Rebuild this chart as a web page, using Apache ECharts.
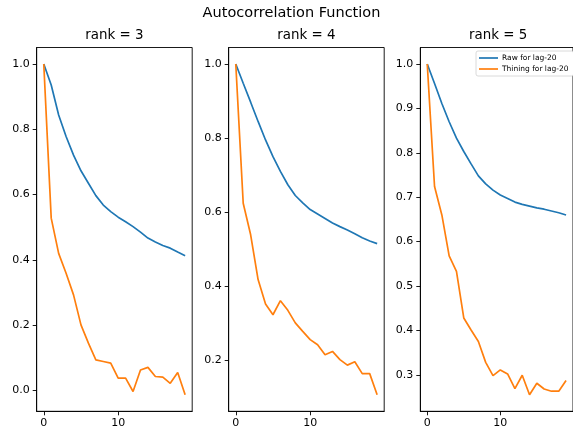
<!DOCTYPE html>
<html>
<head>
<meta charset="utf-8">
<script src="https://cdn.jsdelivr.net/npm/echarts@6/dist/echarts.min.js"></script>
<style>
html,body{margin:0;padding:0;background:#fff;}
#c{width:573px;height:431px;}
</style>
</head>
<body>
<div id="c"></div>
<script>
const lags = [0,1,2,3,4,5,6,7,8,9,10,11,12,13,14,15,16,17,18,19];
const panelTitles = ['rank = 3', 'rank = 4', 'rank = 5'];
const seriesNames = ['Raw for lag-20', 'Thining for lag-20'];
const xTicks = [0, 10];

const raw3 = [1.0,0.936,0.844,0.778,0.721,0.673,0.635,0.597,0.568,0.548,0.531,0.517,0.502,0.485,0.467,0.455,0.444,0.436,0.424,0.413];
const thin3 = [1.0,0.528,0.420,0.359,0.293,0.201,0.145,0.094,0.089,0.084,0.038,0.038,-0.003,0.063,0.071,0.043,0.041,0.022,0.055,-0.013];
const raw4 = [1.0,0.948,0.897,0.845,0.795,0.750,0.710,0.674,0.645,0.625,0.607,0.595,0.583,0.571,0.561,0.552,0.542,0.531,0.522,0.515];
const thin4 = [1.0,0.624,0.539,0.418,0.352,0.323,0.361,0.335,0.301,0.278,0.256,0.242,0.215,0.224,0.202,0.187,0.196,0.164,0.164,0.107];
const raw5 = [1.0,0.956,0.911,0.870,0.833,0.803,0.775,0.748,0.730,0.716,0.705,0.697,0.689,0.684,0.680,0.676,0.673,0.669,0.665,0.660];
const thin5 = [1.0,0.724,0.660,0.568,0.533,0.428,0.401,0.375,0.328,0.298,0.311,0.302,0.269,0.299,0.255,0.281,0.268,0.263,0.263,0.287];
const yTicks3 = [0.0,0.2,0.4,0.6,0.8,1.0];
const yTicks4 = [0.2,0.4,0.6,0.8,1.0];
const yTicks5 = [0.3,0.4,0.5,0.6,0.7,0.8,0.9,1.0];

const panels = [
  {raw: raw3, thin: thin3, yTicks: yTicks3, left: 36.7},
  {raw: raw4, thin: thin4, yTicks: yTicks4, left: 228.7},
  {raw: raw5, thin: thin5, yTicks: yTicks5, left: 420.3}
];

const FONT = 'DejaVu Sans';
const BLUE = '#1f77b4', ORANGE = '#ff7f0e';
const gridTop = 47.5, gridH = 363.8, gridW = 155.5;

const grids = [], xAxes = [], yAxes = [], series = [], titles = [];
titles.push({text: 'Autocorrelation Function', left: 291.5, top: 5, textAlign: 'center', padding: 0,
  textStyle: {fontFamily: FONT, fontSize: 14.5, fontWeight: 'normal', color: '#000', lineHeight: 17}});

panels.forEach((p, i) => {
  const all = p.raw.concat(p.thin);
  const mn = Math.min(...all), mx = Math.max(...all);
  const pad = (mx - mn) * 0.05;
  const xmn = lags[0], xmx = lags[lags.length - 1];
  const xpad = (xmx - xmn) * 0.05;
  grids.push({left: p.left, top: gridTop, width: gridW, height: gridH, show: true,
    borderColor: '#000', borderWidth: 0.9, backgroundColor: 'transparent', containLabel: false});
  xAxes.push({type: 'value', gridIndex: i, min: xmn - xpad, max: xmx + xpad,
    splitLine: {show: false},
    axisLine: {show: true, onZero: false, lineStyle: {color: '#000', width: 0.9}},
    axisTick: {show: true, length: 4, lineStyle: {color: '#000', width: 0.9}, customValues: xTicks},
    axisLabel: {show: true, margin: 6, fontFamily: FONT, fontSize: 11, color: '#000', customValues: xTicks,
      formatter: v => String(Math.round(v))}
  });
  yAxes.push({type: 'value', gridIndex: i, min: mn - pad, max: mx + pad,
    splitLine: {show: false},
    axisLine: {show: true, onZero: false, lineStyle: {color: '#000', width: 0.9}},
    axisTick: {show: true, length: 4, lineStyle: {color: '#000', width: 0.9}, customValues: p.yTicks},
    axisLabel: {show: true, margin: 7, fontFamily: FONT, fontSize: 11, color: '#000', customValues: p.yTicks,
      formatter: v => v.toFixed(1)}
  });
  series.push({name: seriesNames[0], type: 'line', xAxisIndex: i, yAxisIndex: i, symbol: 'none',
    data: lags.map((l, k) => [l, p.raw[k]]), lineStyle: {color: BLUE, width: 1.7}, itemStyle: {color: BLUE},
    animation: false, silent: true});
  series.push({name: seriesNames[1], type: 'line', xAxisIndex: i, yAxisIndex: i, symbol: 'none',
    data: lags.map((l, k) => [l, p.thin[k]]), lineStyle: {color: ORANGE, width: 1.7}, itemStyle: {color: ORANGE},
    animation: false, silent: true});
  titles.push({text: panelTitles[i], left: p.left + gridW / 2, top: 28, textAlign: 'center', padding: 0,
    textStyle: {fontFamily: FONT, fontSize: 13.4, fontWeight: 'normal', color: '#000', lineHeight: 16}});
});

const chart = echarts.init(document.getElementById('c'), null, {renderer: 'canvas'});
chart.setOption({
  animation: false,
  backgroundColor: '#fff',
  title: titles,
  grid: grids,
  xAxis: xAxes,
  yAxis: yAxes,
  legend: {
    data: seriesNames,
    orient: 'vertical',
    left: 476, top: 51,
    padding: [3, 5, 3, 3],
    itemGap: 3,
    itemWidth: 19, itemHeight: 1.7,
    icon: 'rect',
    backgroundColor: '#fff',
    borderColor: '#d0d0d0', borderWidth: 0.8, borderRadius: 2,
    textStyle: {fontFamily: FONT, fontSize: 7.5, color: '#000', padding: [0, 0, 0, -1]},
    selectedMode: false
  },
  series: series
});
</script>
</body>
</html>
